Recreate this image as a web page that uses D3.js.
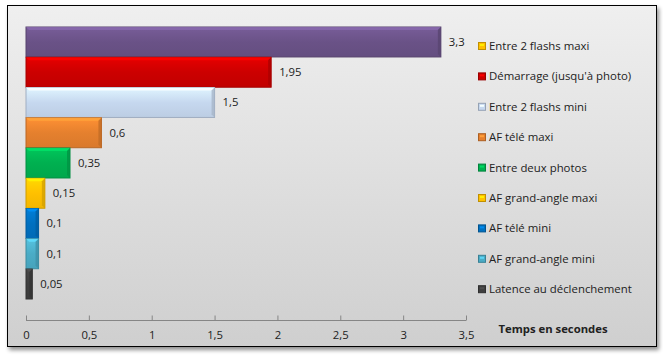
<!DOCTYPE html>
<html><head><meta charset="utf-8">
<script src="https://cdn.jsdelivr.net/npm/d3@7/dist/d3.min.js"></script>
<style>body{margin:0;background:#fff}svg{display:block}</style>
</head><body>
<script>
const categories = ["Entre 2 flashs maxi","Démarrage (jusqu'à photo)","Entre 2 flashs mini","AF télé maxi","Entre deux photos","AF grand-angle maxi","AF télé mini","AF grand-angle mini","Latence au déclenchement"];
const values = [3.3, 1.95, 1.5, 0.6, 0.35, 0.15, 0.1, 0.1, 0.05];
const valueLabels = ["3,3","1,95","1,5","0,6","0,35","0,15","0,1","0,1","0,05"];
const barColors = ["#6a5287","#cc0000","#c6d8ef","#e5802e","#00b050","#ffc000","#0070c0","#4bacc6","#3f3f3f"];
const legendColors = ["#ffc000","#cc0000","#c6d8ef","#e5802e","#00b050","#ffc000","#0070c0","#4bacc6","#3f3f3f"];
const tickValues = [0,0.5,1,1.5,2,2.5,3,3.5];
const tickLabels = ["0","0,5","1","1,5","2","2,5","3","3,5"];
const axisTitle = "Temps en secondes";

const W = 663, H = 357;
const svg = d3.select("body").append("svg").attr("width", W).attr("height", H);
const defs = svg.append("defs");
const bg = defs.append("linearGradient").attr("id","bg").attr("x1",0).attr("y1",0).attr("x2",0).attr("y2",1);
bg.append("stop").attr("offset","0%").attr("stop-color","#efefef");
bg.append("stop").attr("offset","100%").attr("stop-color","#cfcfcf");
const sh = defs.append("filter").attr("id","sh").attr("x","-5%").attr("y","-5%").attr("width","110%").attr("height","115%");
sh.append("feGaussianBlur").attr("in","SourceAlpha").attr("stdDeviation",2);
sh.append("feOffset").attr("dx",2).attr("dy",3).attr("result","ob");
sh.append("feComponentTransfer").append("feFuncA").attr("type","linear").attr("slope",0.45);
const m = sh.append("feMerge"); m.append("feMergeNode"); m.append("feMergeNode").attr("in","SourceGraphic");

svg.append("rect").attr("x",7.5).attr("y",5.5).attr("width",649).attr("height",341)
  .attr("fill","url(#bg)").attr("stroke","#000").attr("stroke-width",1).attr("filter","url(#sh)");

const x = d3.scaleLinear().domain([0,3.5]).range([26,466]);
const y = d3.scaleBand().domain(categories).range([27,299]).paddingInner(0.01).paddingOuter(0);

const font = "'Open Sans', 'DejaVu Sans', sans-serif";

values.forEach((v,i)=>{
  const c = barColors[i];
  const g = svg.append("g");
  const y0 = y(categories[i]), h = y.bandwidth(), x0 = x(0), w = x(v)-x(0);
  const grad = defs.append("linearGradient").attr("id","bar"+i).attr("x1",0).attr("y1",0).attr("x2",0).attr("y2",1);
  grad.append("stop").attr("offset","0%").attr("stop-color",d3.color(c).brighter(0.35));
  grad.append("stop").attr("offset","50%").attr("stop-color",c);
  grad.append("stop").attr("offset","100%").attr("stop-color",d3.color(c).darker(0.15));
  g.append("rect").attr("x",x0).attr("y",y0).attr("width",w).attr("height",h)
    .attr("fill","url(#bar"+i+")").attr("stroke",d3.color(c).darker(0.6)).attr("stroke-width",1);
  g.append("path").attr("d",`M${x0},${y0} L${x0+w},${y0} L${x0+w-3},${y0+3} L${x0+3},${y0+3} Z`)
    .attr("fill",d3.color(c).brighter(0.7)).attr("opacity",0.85);
  g.append("path").attr("d",`M${x0+w},${y0} L${x0+w},${y0+h} L${x0+w-3},${y0+h-3} L${x0+w-3},${y0+3} Z`)
    .attr("fill",d3.color(c).darker(0.5)).attr("opacity",0.8);
  svg.append("text").attr("x",x(v)+8).attr("y",y0+h/2).attr("dy","0.35em")
    .attr("font-family",font).attr("font-size",11.3).attr("fill","#222").text(valueLabels[i]);
});

const axis = d3.axisBottom(x).tickValues(tickValues).tickSize(-5).tickPadding(8)
  .tickFormat((d,i)=>tickLabels[i]);
const ag = svg.append("g").attr("transform","translate(0,320.5)").call(axis);
ag.select(".domain").attr("stroke","#868686").attr("d","M26,0H466");
ag.selectAll(".tick line").attr("stroke","#868686");
ag.selectAll(".tick text").attr("font-family",font).attr("font-size",11.3).attr("fill","#222").attr("dy","0.9em");

svg.append("text").attr("x",553).attr("y",333).attr("text-anchor","middle")
  .attr("font-family",font).attr("font-size",11.3).attr("font-weight","bold").attr("fill","#222").text(axisTitle);

const leg = svg.append("g");
categories.forEach((name,i)=>{
  const ly = 46 + i*30.4;
  const gg = leg.append("g");
  gg.append("rect").attr("x",478.5).attr("y",ly-3.5).attr("width",7).attr("height",7)
    .attr("fill",legendColors[i]).attr("stroke",d3.color(legendColors[i]).darker(0.8)).attr("stroke-width",1);
  gg.append("rect").attr("x",480).attr("y",ly-2).attr("width",4).attr("height",2).attr("fill",d3.color(legendColors[i]).brighter(0.6));
  gg.append("text").attr("x",489).attr("y",ly).attr("dy","0.35em")
    .attr("font-family",font).attr("font-size",11.4).attr("fill","#222").text(name);
});
</script>
</body></html>
